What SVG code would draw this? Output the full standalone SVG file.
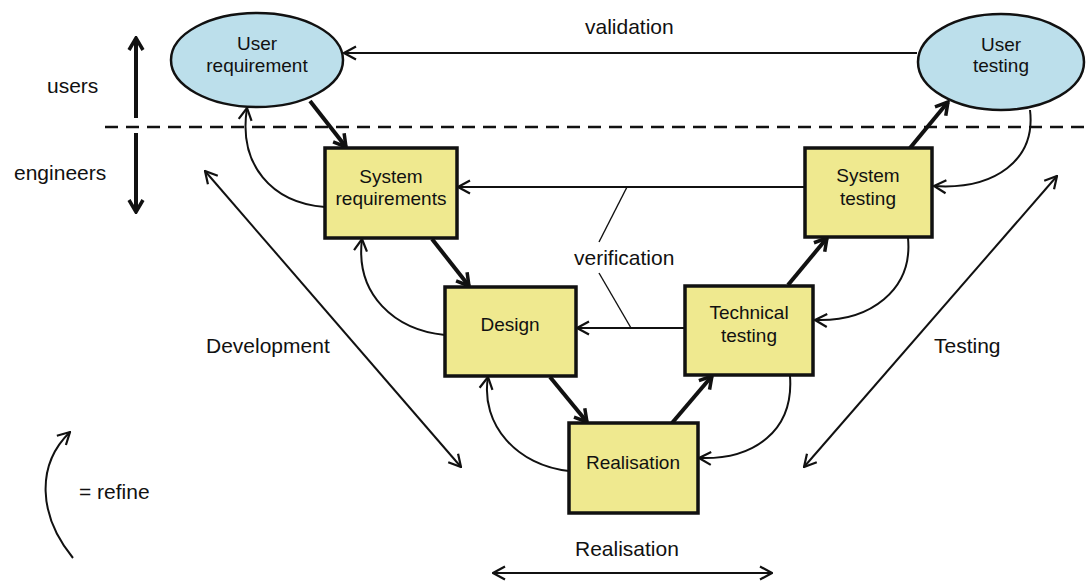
<svg xmlns="http://www.w3.org/2000/svg" width="1091" height="584" viewBox="0 0 1091 584">
<defs>
<style>
text{font-family:"Liberation Sans",Arial,sans-serif;fill:#111;}
.lbl{font-size:21px;}
.nt{font-size:19px;text-anchor:middle;}
.ell{fill:#bcdfeb;stroke:#111;stroke-width:2.5;}
.box{fill:#efe98f;stroke:#111;stroke-width:3.5;}
.thin{fill:none;stroke:#111;stroke-width:2;marker-end:url(#ah);}
.thick{fill:none;stroke:#111;stroke-width:4;marker-end:url(#ahb);}
.dbl{fill:none;stroke:#111;stroke-width:2;marker-start:url(#ah);marker-end:url(#ah);}
.lead{fill:none;stroke:#111;stroke-width:1.4;}
</style>
<marker id="ah" markerUnits="userSpaceOnUse" viewBox="0 0 14 16" refX="13" refY="8" markerWidth="14" markerHeight="16" orient="auto-start-reverse">
<path d="M1,1.5 L13,8 L1,14.5" fill="none" stroke="#111" stroke-width="2.2"/>
</marker>
<marker id="ahb" markerUnits="userSpaceOnUse" viewBox="0 0 16 18" refX="14" refY="9" markerWidth="16" markerHeight="18" orient="auto-start-reverse">
<path d="M2,2 L14,9 L2,16" fill="none" stroke="#111" stroke-width="3.5"/>
</marker>
</defs>
<rect width="1091" height="584" fill="#ffffff"/>

<g id="labels">
<text class="lbl" x="585" y="34">validation</text>
<text class="lbl" x="47" y="93">users</text>
<text class="lbl" x="14" y="180">engineers</text>
<text class="lbl" x="574" y="265">verification</text>
<text class="lbl" x="206" y="353">Development</text>
<text class="lbl" x="934" y="353">Testing</text>
<text class="lbl" x="575" y="556">Realisation</text>
<text class="lbl" x="79" y="499">= refine</text>
</g>

<g id="divider">
<line x1="105" y1="127" x2="1091" y2="127" stroke="#111" stroke-width="2.5" stroke-dasharray="13 8"/>
</g>

<g id="connectors">
<!-- users / engineers -->
<line class="thick" x1="136" y1="118" x2="136" y2="38"/>
<line class="thick" x1="136" y1="133" x2="136" y2="212"/>
<!-- validation -->
<line class="thin" x1="917" y1="53" x2="344" y2="53"/>
<!-- verification -->
<line class="thin" x1="805" y1="187" x2="458" y2="187"/>
<line class="thin" x1="685" y1="328" x2="577" y2="328"/>
<line class="lead" x1="627" y1="187" x2="599" y2="242"/>
<line class="lead" x1="599" y1="273" x2="631" y2="328"/>
<!-- V flow -->
<line class="thick" x1="310" y1="101" x2="346" y2="147"/>
<line class="thick" x1="432" y1="239" x2="469" y2="286"/>
<line class="thick" x1="550" y1="377" x2="587" y2="422"/>
<line class="thick" x1="672" y1="423" x2="712" y2="376"/>
<line class="thick" x1="788" y1="285" x2="827" y2="238"/>
<line class="thick" x1="910" y1="148" x2="948" y2="102"/>
<!-- refine curves -->
<path class="thin" d="M325,207 C272,203 238,165 247,108"/>
<path class="thin" d="M445,335 C395,330 355,295 362,239"/>
<path class="thin" d="M569,471 C518,466 480,425 488,377"/>
<path class="thin" d="M1030,110 C1036,160 995,190 934,186"/>
<path class="thin" d="M908,238 C913,290 870,322 815,320"/>
<path class="thin" d="M790,376 C794,430 755,460 699,458"/>
<!-- development / testing / realisation -->
<line class="dbl" x1="205" y1="171" x2="461" y2="467"/>
<line class="dbl" x1="1057" y1="176" x2="804" y2="467"/>
<line class="dbl" x1="493" y1="573" x2="772" y2="573"/>
<!-- legend -->
<path class="thin" d="M73,558 C38,515 36,465 70,432"/>
</g>

<g id="user-requirement">
<ellipse class="ell" cx="257" cy="60" rx="86" ry="47"/>
<text class="nt" x="257" y="50">User</text>
<text class="nt" x="257" y="72">requirement</text>
</g>
<g id="user-testing">
<ellipse class="ell" cx="1001" cy="62" rx="83" ry="48"/>
<text class="nt" x="1001" y="51">User</text>
<text class="nt" x="1001" y="72">testing</text>
</g>
<g id="system-requirements">
<rect class="box" x="325" y="148" width="132" height="90"/>
<text class="nt" x="391" y="183">System</text>
<text class="nt" x="391" y="205">requirements</text>
</g>
<g id="system-testing">
<rect class="box" x="805" y="148" width="127" height="89"/>
<text class="nt" x="868" y="182">System</text>
<text class="nt" x="868" y="205">testing</text>
</g>
<g id="design">
<rect class="box" x="445" y="287" width="131" height="89"/>
<text class="nt" x="510" y="331">Design</text>
</g>
<g id="technical-testing">
<rect class="box" x="685" y="286" width="128" height="89"/>
<text class="nt" x="749" y="319">Technical</text>
<text class="nt" x="749" y="342">testing</text>
</g>
<g id="realisation">
<rect class="box" x="569" y="423" width="129" height="90"/>
<text class="nt" x="633" y="469">Realisation</text>
</g>
</svg>
